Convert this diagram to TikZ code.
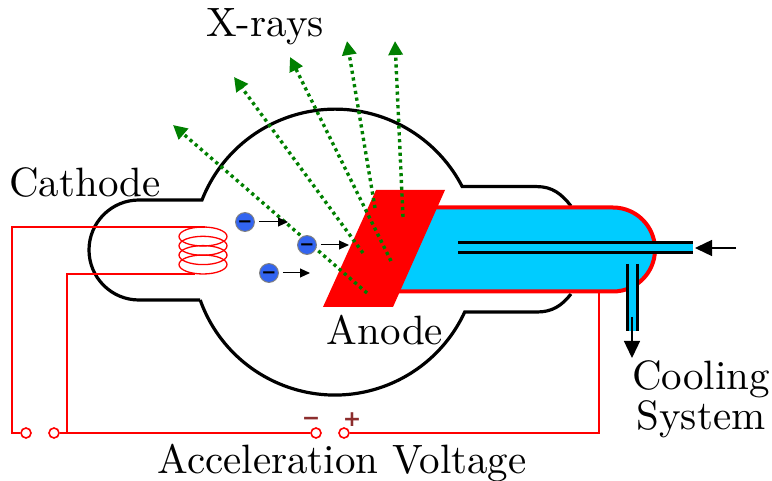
\documentclass[tikz,border=0pt]{standalone}
\usepackage{fontspec}
\usetikzlibrary{arrows.meta}
\newfontfamily\signfont{DejaVu Sans}
\newfontfamily\labelfont{lmroman10-regular.otf}
\definecolor{coolant}{RGB}{0,204,255}
\definecolor{electronblue}{RGB}{50,100,240}
\definecolor{signred}{RGB}{140,45,45}
\definecolor{raygreen}{RGB}{0,128,0}
\begin{document}
\begin{tikzpicture}[x=1pt,y=-1pt]
      \tikzstyle{label} = [font=\labelfont\fontsize{41}{45}\selectfont, align=center, inner sep=0pt]
      \tikzstyle{glass} = [line width=3.2pt, black]
      \tikzstyle{wire} = [line width=1.6pt, red]
      \tikzstyle{terminal} = [line width=1.6pt, draw=red, fill=white, circle, inner sep=0pt, minimum size=10pt]
      \tikzstyle{electron} = [draw=gray, line width=1pt, fill=electronblue, circle, inner sep=0pt, minimum size=18pt, text=black, text height=11.4pt, text depth=0pt, font=\signfont\bfseries\fontsize{18}{18}\selectfont]
      \tikzstyle{drift} = [line width=1pt, -{Triangle[length=10pt,width=9pt]}]
      \tikzstyle{ray} = [line width=3.4pt, raygreen, dash pattern=on 3.2pt off 3.6pt, -{Triangle[length=14pt,width=14pt]}]
      \tikzstyle{pipe} = [line width=3pt, black]
      \tikzstyle{flow} = [line width=1.4pt, -{Triangle[length=17pt,width=16pt]}]
      \tikzstyle{sign} = [signred, inner sep=0pt, text height=13pt, text depth=0pt, font=\signfont\bfseries\fontsize{22}{22}\selectfont]
      \useasboundingbox (0,0) rectangle (772,481);

      % bulb
      \draw[glass] (200.2,300) -- (139,300) arc[start angle=270, end angle=90, radius=50pt] -- (202,200)
        arc[start angle=158.6, end angle=27.3, radius=143pt] -- (537,186.6) to[out=0, in=128] (571,206);
      \draw[glass] (200.2,300) arc[start angle=199.6, end angle=335.2, radius=143pt] -- (537,312) to[out=0, in=232] (571,294);

      % circuit
      \node[terminal] (t1) at (26,433) {};
      \node[terminal] (t2) at (54,433) {};
      \node[terminal] (t3) at (316,433) {};
      \node[terminal] (t4) at (344,433) {};
      \coordinate (c1) at (205,227);
      \coordinate (c2) at (195,274);
      \draw[wire] (c1) -- (12,227) -- (12,433) -- (t1);
      \draw[wire] (c2) -- (67,274) -- (67,433);
      \draw[wire] (t2) -- (t3);
      \coordinate (a1) at (599,292);
      \draw[wire] (t4) -- (599,433) -- (a1);
      \draw[red, line width=1.3pt] (203,236.5) ellipse (24pt and 9.5pt);
      \draw[red, line width=1.3pt] (203,245.8) ellipse (24pt and 9.5pt);
      \draw[red, line width=1.3pt] (203,255.1) ellipse (24pt and 9.5pt);
      \draw[red, line width=1.3pt] (203,264.5) ellipse (24pt and 9.5pt);
      \node[sign] (minus) at (311,419) {−};
      \node[sign] (plus) at (352,420) {+};

      % cooled body and anode
      \draw[line width=4pt, draw=red, fill=coolant] (410,207.5) -- (613,207.5) arc[start angle=90, end angle=-90, radius=42pt] -- (390,291.5) -- cycle;
      \fill[coolant] (650,243) rectangle (693,253);
      \fill[coolant] (627,280) rectangle (637,331);
      \draw[pipe] (458,243) -- (693,243);
      \draw[pipe] (458,253) -- (693,253);
      \draw[pipe] (627,264) -- (627,331);
      \draw[pipe] (637,264) -- (637,331);
      \fill[red] (376,190) -- (445,190) -- (393,307) -- (323,307) -- cycle;

      % flow arrows
      \coordinate (f1) at (736,248);
      \coordinate (f2) at (695,248);
      \coordinate (f3) at (632,317);
      \coordinate (f4) at (632,358);
      \draw[flow] (f1) to (f2);
      \draw[flow] (f3) to (f4);

      % x-rays
      \coordinate (r1a) at (367,293);
      \coordinate (r1b) at (173,125);
      \coordinate (r2a) at (363,253);
      \coordinate (r2b) at (234,77);
      \coordinate (r3a) at (391,261);
      \coordinate (r3b) at (290,57);
      \coordinate (r4a) at (375,208);
      \coordinate (r4b) at (347,41);
      \coordinate (r5a) at (403,217);
      \coordinate (r5b) at (395,41);
      \draw[ray] (r1a) to (r1b);
      \draw[ray] (r2a) to (r2b);
      \draw[ray] (r3a) to (r3b);
      \draw[ray] (r4a) to (r4b);
      \draw[ray] (r5a) to (r5b);

      % electrons
      \node[electron] (e1) at (245,222) {−};
      \node[electron] (e2) at (307,245) {−};
      \node[electron] (e3) at (269,273) {−};
      \coordinate (d1) at (288,222);
      \coordinate (d2) at (349,245);
      \coordinate (d3) at (310,273);
      \draw[drift, shorten <=4pt] (e1) to (d1);
      \draw[drift, shorten <=4pt] (e2) to (d2);
      \draw[drift, shorten <=4pt] (e3) to (d3);

      % labels
      \node[label] (xrays) at (265,27) {X-rays};
      \node[label] (cathode) at (85,183) {Cathode};
      \node[label] (anode) at (385,330) {Anode};
      \node[label, align=center] (cooling) at (701,399) {Cooling\\[-5pt]System};
      \node[label] (voltage) at (342,463) {Acceleration Voltage};
    \end{tikzpicture}
\end{document}
